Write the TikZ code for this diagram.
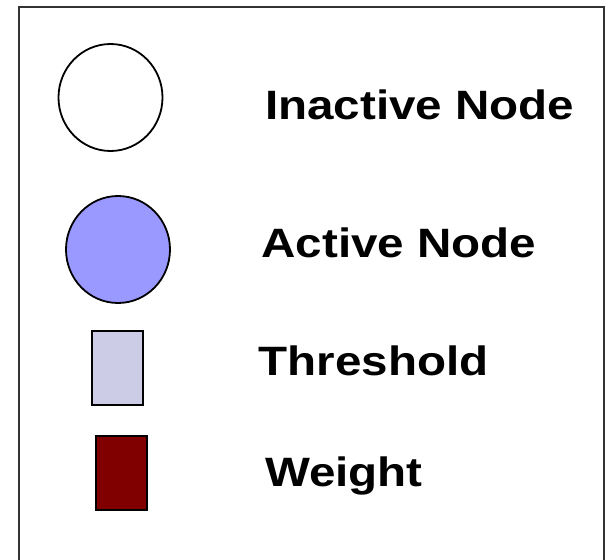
\documentclass[tikz,border=0pt]{standalone}
\usepackage{fontspec}
\setmainfont{Liberation Sans}
\usetikzlibrary{shapes.geometric}
\definecolor{activefill}{HTML}{9999FF}
\definecolor{threshfill}{HTML}{CCCCE6}
\definecolor{weightfill}{HTML}{800000}
\tikzset{
  symb/.style={draw=black, line width=1.8pt, inner sep=0pt, outer sep=0pt},
  circsym/.style={symb, ellipse, minimum width=104pt, minimum height=107pt},
  rectsym/.style={symb, rectangle},
  lbl/.style={anchor=base west, inner sep=0pt, outer sep=0pt, font=\fontsize{41}{48}\selectfont\bfseries}
}
\newcommand{\wide}[1]{\scalebox{1.16}[1]{#1}}
\begin{document}
\begin{tikzpicture}[x=1pt, y=-1pt]
\useasboundingbox (0,0) rectangle (611,560);
\draw[line width=2pt, draw=black!80] (19,575) -- (19,7) -- (604,7) -- (604,575);
\node[circsym] (inactive) at (110.5,97.5) {};
\node[circsym, fill=activefill] (active) at (118,249.5) {};
\node[rectsym, fill=threshfill, minimum width=51pt, minimum height=73.7pt] (thresh) at (117.2,367.8) {};
\node[rectsym, fill=weightfill, minimum width=51.3pt, minimum height=74pt] (weight) at (121.3,473) {};
\node[lbl] (tinactive) at (265,119.5) {\wide{Inactive Node}};
\node[lbl] (tactive) at (261.5,257.5) {\wide{Active Node}};
\node[lbl] (tthresh) at (258.5,375) {\wide{Threshold}};
\node[lbl] (tweight) at (265,486.5) {\wide{Weight}};
\end{tikzpicture}
\end{document}
